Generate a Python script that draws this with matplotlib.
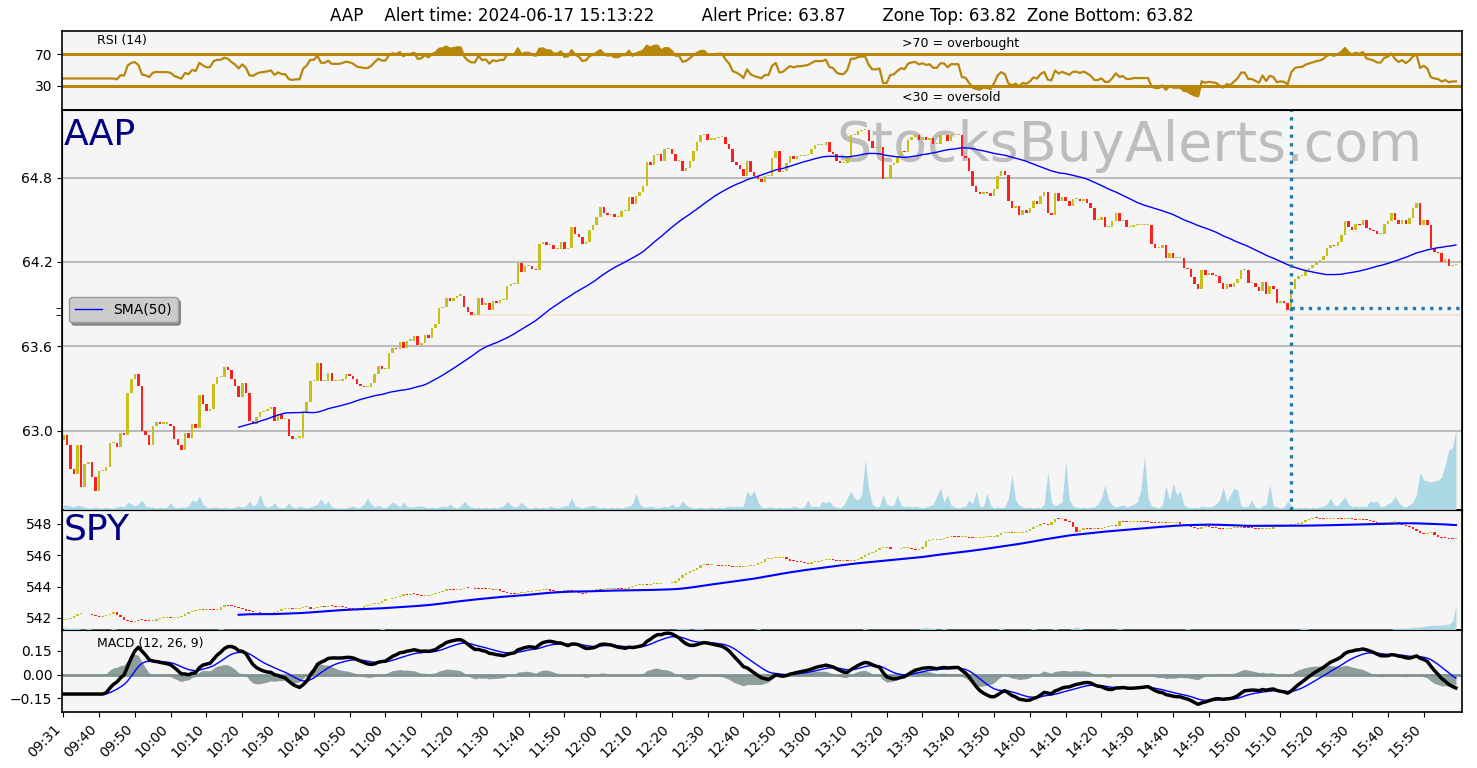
import matplotlib
matplotlib.use("Agg")
import matplotlib.pyplot as plt
import numpy as np
import pandas as pd

# x tick labels, one every 10 one-minute bars
tick_labels = ["09:31", "09:40", "09:50", "10:00", "10:10", "10:20", "10:30", "10:40",
               "10:50", "11:00", "11:10", "11:20", "11:30", "11:40", "11:50", "12:00",
               "12:10", "12:20", "12:30", "12:40", "12:50", "13:00", "13:10", "13:20",
               "13:30", "13:40", "13:50", "14:00", "14:10", "14:20", "14:30", "14:40",
               "14:50", "15:00", "15:10", "15:20", "15:30", "15:40", "15:50"]

aap_first_open = 62.93
aap_close = [
    62.97, 62.90, 62.73, 62.69, 62.90, 62.60, 62.76, 62.78, 62.67, 62.57,
    62.71, 62.71, 62.74, 62.91, 62.91, 62.88, 62.98, 62.97, 63.27, 63.37,
    63.40, 63.32, 63.00, 62.97, 62.90, 63.03, 63.06, 63.05, 63.05, 63.05,
    63.03, 62.94, 62.90, 62.86, 62.98, 62.95, 63.05, 63.02, 63.25, 63.19,
    63.14, 63.15, 63.33, 63.38, 63.38, 63.45, 63.43, 63.37, 63.32, 63.24,
    63.34, 63.27, 63.07, 63.05, 63.10, 63.13, 63.14, 63.15, 63.17, 63.07,
    63.12, 63.08, 63.08, 62.96, 62.94, 62.95, 62.95, 63.13, 63.20, 63.35,
    63.35, 63.48, 63.35, 63.35, 63.41, 63.35, 63.35, 63.35, 63.37, 63.40,
    63.39, 63.37, 63.33, 63.32, 63.31, 63.31, 63.34, 63.40, 63.46, 63.44,
    63.44, 63.55, 63.59, 63.58, 63.63, 63.59, 63.64, 63.64, 63.67, 63.61,
    63.62, 63.68, 63.66, 63.73, 63.76, 63.87, 63.88, 63.94, 63.92, 63.94,
    63.96, 63.96, 63.88, 63.84, 63.82, 63.82, 63.94, 63.89, 63.91, 63.86,
    63.92, 63.91, 63.93, 63.93, 64.03, 64.04, 64.04, 64.19, 64.13, 64.17,
    64.17, 64.15, 64.14, 64.33, 64.34, 64.32, 64.32, 64.29, 64.29, 64.34,
    64.29, 64.30, 64.45, 64.40, 64.38, 64.33, 64.34, 64.43, 64.46, 64.52,
    64.59, 64.55, 64.53, 64.54, 64.52, 64.52, 64.56, 64.56, 64.66, 64.61,
    64.67, 64.70, 64.74, 64.91, 64.89, 64.96, 64.97, 64.92, 65.00, 65.00,
    64.97, 64.92, 64.92, 64.85, 64.87, 64.92, 64.99, 65.05, 65.10, 65.11,
    65.07, 65.07, 65.08, 65.09, 65.09, 65.04, 65.00, 64.91, 64.89, 64.86,
    64.81, 64.92, 64.84, 64.81, 64.79, 64.77, 64.81, 64.81, 64.94, 64.99,
    64.84, 64.85, 64.90, 64.95, 64.93, 64.95, 64.95, 64.96, 64.97, 65.00,
    65.03, 65.03, 65.03, 65.05, 64.98, 64.97, 64.92, 64.90, 64.90, 64.94,
    65.10, 65.10, 65.13, 65.14, 65.14, 65.06, 65.01, 65.01, 65.02, 64.79,
    64.79, 64.89, 64.90, 64.95, 64.99, 64.98, 65.07, 65.09, 65.10, 65.07,
    65.09, 65.07, 65.08, 65.04, 65.04, 65.10, 65.10, 65.06, 65.10, 65.10,
    65.10, 64.95, 64.94, 64.85, 64.74, 64.70, 64.68, 64.70, 64.69, 64.67,
    64.72, 64.81, 64.85, 64.82, 64.63, 64.58, 64.60, 64.53, 64.57, 64.55,
    64.58, 64.63, 64.61, 64.67, 64.70, 64.55, 64.53, 64.69, 64.63, 64.66,
    64.63, 64.60, 64.65, 64.65, 64.63, 64.65, 64.62, 64.58, 64.50, 64.50,
    64.52, 64.45, 64.45, 64.49, 64.55, 64.49, 64.50, 64.45, 64.45, 64.46,
    64.46, 64.46, 64.46, 64.46, 64.33, 64.30, 64.30, 64.32, 64.23, 64.26,
    64.23, 64.23, 64.23, 64.16, 64.15, 64.09, 64.04, 64.01, 64.14, 64.11,
    64.12, 64.11, 64.10, 64.05, 64.01, 64.04, 64.02, 64.05, 64.08, 64.14,
    64.14, 64.05, 64.05, 64.02, 63.99, 64.06, 63.97, 64.03, 64.01, 63.91,
    63.92, 63.91, 63.86, 64.01, 64.08, 64.10, 64.10, 64.14, 64.16, 64.18,
    64.20, 64.21, 64.24, 64.30, 64.32, 64.31, 64.34, 64.39, 64.49, 64.45,
    64.43, 64.47, 64.46, 64.50, 64.44, 64.43, 64.42, 64.40, 64.40, 64.47,
    64.49, 64.55, 64.50, 64.47, 64.50, 64.47, 64.51, 64.58, 64.62, 64.46,
    64.50, 64.46, 64.30, 64.27, 64.26, 64.20, 64.22, 64.17, 64.18, 64.18,
]

aap_volume = [
    5, 5, 4, 3, 5, 4, 3, 2, 2, 3,
    2, 2, 3, 2, 2, 3, 4, 3, 8, 6,
    4, 6, 10, 4, 3, 3, 2, 3, 2, 3,
    7, 3, 2, 3, 3, 4, 10, 8, 14, 6,
    3, 2, 3, 3, 2, 3, 2, 2, 3, 4,
    3, 4, 9, 4, 6, 16, 5, 3, 4, 7,
    3, 2, 3, 7, 3, 2, 4, 3, 2, 3,
    4, 6, 11, 5, 9, 3, 2, 2, 2, 2,
    3, 4, 2, 3, 6, 12, 6, 3, 5, 3,
    2, 5, 8, 6, 3, 8, 4, 3, 3, 4,
    4, 3, 2, 3, 2, 3, 4, 3, 6, 3,
    2, 4, 9, 5, 3, 2, 3, 2, 3, 2,
    3, 2, 3, 4, 9, 5, 3, 4, 8, 4,
    2, 2, 3, 2, 3, 2, 4, 3, 2, 3,
    4, 5, 12, 4, 3, 2, 3, 4, 5, 3,
    2, 3, 2, 3, 2, 3, 2, 3, 4, 6,
    17, 6, 3, 3, 4, 3, 2, 3, 4, 3,
    6, 3, 4, 9, 5, 3, 2, 2, 3, 2,
    2, 3, 2, 3, 2, 3, 4, 3, 4, 3,
    4, 19, 14, 20, 8, 3, 2, 3, 3, 2,
    3, 2, 3, 2, 4, 3, 2, 3, 10, 3,
    4, 3, 9, 7, 9, 4, 3, 2, 5, 12,
    19, 12, 10, 15, 50, 20, 6, 3, 4, 15,
    6, 4, 5, 15, 5, 3, 4, 3, 4, 3,
    2, 3, 4, 6, 14, 22, 8, 15, 5, 3,
    2, 3, 4, 10, 6, 19, 4, 3, 17, 5,
    2, 3, 2, 3, 12, 35, 10, 5, 3, 2,
    3, 2, 3, 2, 6, 38, 8, 4, 6, 8,
    49, 10, 4, 3, 2, 3, 2, 3, 3, 6,
    12, 25, 10, 5, 3, 4, 5, 3, 4, 6,
    8, 20, 54, 12, 4, 3, 2, 5, 24, 10,
    27, 15, 19, 5, 3, 2, 3, 2, 4, 3,
    3, 4, 6, 10, 23, 8, 15, 22, 20, 4,
    3, 4, 10, 3, 2, 4, 6, 26, 4, 3,
    2, 3, 9, 5, 2, 3, 2, 3, 2, 3,
    2, 3, 4, 6, 12, 5, 4, 9, 13, 6,
    3, 4, 3, 4, 3, 9, 8, 9, 3, 4,
    6, 8, 14, 8, 4, 3, 5, 8, 16, 38,
    30, 29, 28, 29, 30, 33, 45, 60, 62, 80,
]

spy_first_open = 541.85
spy_close = [
    541.90, 541.95, 542.00, 542.15, 542.26, 542.28, 542.22, 542.25, 542.18, 542.15,
    542.05, 542.12, 542.20, 542.22, 542.35, 542.20, 542.05, 541.90, 541.82, 541.75,
    541.82, 541.90, 541.85, 541.80, 541.78, 541.80, 541.92, 542.00, 542.02, 542.05,
    542.00, 542.00, 542.05, 542.10, 542.26, 542.35, 542.43, 542.50, 542.54, 542.52,
    542.54, 542.50, 542.48, 542.50, 542.70, 542.80, 542.78, 542.75, 542.70, 542.64,
    542.55, 542.47, 542.45, 542.40, 542.35, 542.30, 542.26, 542.22, 542.20, 542.35,
    542.47, 542.55, 542.60, 542.62, 542.58, 542.60, 542.65, 542.68, 542.69, 542.58,
    542.65, 542.70, 542.73, 542.72, 542.75, 542.74, 542.70, 542.75, 542.68, 542.62,
    542.60, 542.58, 542.58, 542.65, 542.75, 542.82, 542.90, 542.92, 542.96, 543.08,
    543.18, 543.22, 543.28, 543.33, 543.42, 543.50, 543.48, 543.52, 543.50, 543.45,
    543.40, 543.42, 543.46, 543.55, 543.62, 543.67, 543.75, 543.82, 543.80, 543.76,
    543.78, 543.85, 543.93, 543.90, 543.88, 543.86, 543.84, 543.83, 543.82, 543.82,
    543.80, 543.82, 543.72, 543.65, 543.60, 543.55, 543.54, 543.58, 543.60, 543.65,
    543.68, 543.71, 543.75, 543.78, 543.80, 543.82, 543.75, 543.70, 543.67, 543.72,
    543.75, 543.72, 543.70, 543.67, 543.60, 543.54, 543.67, 543.72, 543.78, 543.82,
    543.80, 543.82, 543.82, 543.84, 543.86, 543.84, 543.82, 543.82, 543.95, 544.04,
    544.08, 544.12, 544.14, 544.12, 544.14, 544.15, 544.18, 544.20, 544.20, 544.22,
    544.22, 544.35, 544.55, 544.74, 544.90, 545.00, 545.04, 545.20, 545.39, 545.42,
    545.38, 545.39, 545.35, 545.32, 545.30, 545.32, 545.30, 545.28, 545.28, 545.27,
    545.28, 545.30, 545.33, 545.36, 545.50, 545.60, 545.75, 545.78, 545.80, 545.82,
    545.84, 545.86, 545.78, 545.64, 545.62, 545.60, 545.55, 545.50, 545.47, 545.55,
    545.60, 545.65, 545.69, 545.72, 545.75, 545.68, 545.64, 545.62, 545.65, 545.64,
    545.66, 545.69, 545.75, 545.86, 546.03, 546.12, 546.22, 546.35, 546.44, 546.48,
    546.50, 546.42, 546.37, 546.40, 546.44, 546.45, 546.46, 546.40, 546.33, 546.40,
    546.50, 546.93, 546.95, 546.97, 547.00, 547.05, 547.08, 547.15, 547.20, 547.18,
    547.14, 547.14, 547.14, 547.12, 547.10, 547.10, 547.12, 547.14, 547.14, 547.16,
    547.19, 547.30, 547.40, 547.42, 547.42, 547.40, 547.42, 547.42, 547.48, 547.53,
    547.70, 547.83, 547.90, 548.00, 547.98, 547.96, 548.10, 548.32, 548.30, 548.32,
    548.20, 548.10, 547.80, 547.46, 547.60, 547.74, 547.70, 547.68, 547.70, 547.68,
    547.75, 547.82, 547.89, 547.90, 547.89, 548.17, 548.12, 548.10, 548.12, 548.15,
    548.17, 548.14, 548.12, 548.10, 548.08, 548.06, 548.05, 548.05, 548.04, 548.06,
    548.08, 548.10, 548.02, 547.94, 547.85, 547.79, 547.72, 547.68, 547.78, 547.87,
    547.80, 547.74, 547.72, 547.70, 547.68, 547.70, 547.72, 547.74, 547.76, 547.79,
    547.76, 547.74, 547.72, 547.70, 547.68, 547.68, 547.68, 547.70, 547.79, 547.82,
    547.86, 547.89, 547.92, 547.96, 547.98, 548.00, 548.12, 548.26, 548.32, 548.39,
    548.36, 548.33, 548.30, 548.31, 548.32, 548.32, 548.31, 548.30, 548.30, 548.30,
    548.29, 548.28, 548.28, 548.26, 548.24, 548.21, 548.12, 548.04, 548.04, 548.04,
    548.04, 548.10, 548.15, 548.05, 547.94, 547.86, 547.79, 547.68, 547.57, 547.45,
    547.36, 547.40, 547.46, 547.30, 547.14, 547.10, 547.08, 547.06, 547.04, 547.05,
]

spy_volume = [
    3, 2, 2, 2, 2, 1, 1, 2, 1, 1,
    1, 1, 1, 1, 2, 1, 1, 1, 1, 1,
    1, 1, 1, 1, 1, 1, 1, 1, 1, 1,
    1, 1, 1, 1, 1, 1, 1, 1, 1, 1,
    1, 1, 1, 1, 2, 1, 1, 1, 1, 1,
    1, 1, 1, 1, 1, 1, 1, 1, 1, 1,
    1, 1, 1, 1, 1, 1, 1, 1, 1, 1,
    1, 1, 1, 1, 1, 1, 1, 1, 1, 1,
    1, 1, 1, 1, 1, 1, 1, 1, 1, 2,
    1, 1, 1, 1, 1, 1, 1, 1, 1, 1,
    1, 1, 1, 1, 1, 1, 1, 1, 1, 1,
    1, 1, 1, 1, 1, 1, 1, 1, 1, 1,
    1, 1, 1, 1, 1, 1, 1, 1, 1, 1,
    1, 1, 1, 1, 1, 1, 1, 1, 1, 1,
    1, 1, 1, 1, 1, 1, 1, 1, 1, 1,
    1, 1, 1, 1, 1, 1, 1, 1, 1, 1,
    1, 1, 1, 1, 1, 1, 1, 1, 1, 1,
    1, 1, 2, 2, 2, 1, 1, 2, 2, 1,
    1, 1, 1, 1, 1, 1, 1, 1, 1, 1,
    1, 1, 1, 1, 2, 1, 1, 1, 1, 1,
    1, 1, 1, 1, 1, 1, 1, 1, 1, 1,
    1, 1, 1, 1, 1, 1, 1, 1, 1, 1,
    1, 1, 1, 1, 2, 1, 1, 1, 1, 1,
    1, 1, 1, 1, 1, 1, 1, 1, 1, 1,
    2, 3, 2, 2, 1, 1, 2, 1, 1, 1,
    1, 1, 1, 1, 1, 1, 1, 1, 1, 1,
    1, 1, 2, 1, 1, 1, 1, 1, 1, 1,
    1, 2, 1, 1, 1, 1, 1, 2, 1, 1,
    1, 1, 2, 3, 2, 1, 1, 1, 1, 1,
    1, 1, 1, 1, 1, 2, 1, 1, 1, 1,
    1, 1, 1, 1, 1, 1, 1, 1, 1, 1,
    1, 1, 1, 1, 2, 1, 1, 1, 1, 1,
    1, 1, 1, 1, 1, 1, 1, 1, 1, 1,
    1, 1, 1, 1, 1, 1, 1, 1, 1, 1,
    1, 1, 1, 1, 1, 1, 2, 2, 1, 1,
    1, 1, 1, 1, 1, 1, 1, 1, 1, 1,
    1, 1, 1, 1, 1, 1, 1, 1, 1, 1,
    1, 1, 2, 2, 2, 2, 2, 3, 3, 3,
    4, 4, 5, 5, 5, 5, 6, 6, 9, 25,
]

alert_index = 343
alert_price = 63.87
zone_price = 63.82
zone_start = 113
title = ("AAP    Alert time: 2024-06-17 15:13:22         Alert Price: 63.87"
         "       Zone Top: 63.82  Zone Bottom: 63.82")

UP = "#c6c01c"
DOWN = "#fb1f1f"
GOLD = "#b8860b"
BG = "#f5f5f5"

n = len(aap_close)
x = np.arange(n)
XLIM = (-0.35, 390.7)


def candles(ax, close, first_open, min_h):
    close = np.array(close)
    opn = np.r_[first_open, close[:-1]]
    up = close >= opn
    bottom = np.minimum(opn, close)
    height = np.maximum(np.abs(close - opn), min_h)
    ax.bar(x, height, bottom=bottom, width=0.7,
           color=np.where(up, UP, DOWN), linewidth=0, zorder=2)


def volume(ax, vol, color="lightblue"):
    axv = ax.twinx()
    axv.fill_between(x, vol, color=color, linewidth=0)
    axv.set_ylim(0, max(vol) * 5)
    axv.set_yticks([])
    axv.set_xlim(*XLIM)
    return axv


# indicators
s = pd.Series(aap_close)
delta = s.diff()
gain = delta.clip(lower=0).ewm(com=13, adjust=False, min_periods=14).mean()
loss = (-delta.clip(upper=0)).ewm(com=13, adjust=False, min_periods=14).mean()
rsi = (100 - 100 / (1 + gain / loss)).bfill().values

# MACD in percent of price (12, 26, 9)
ema12 = s.ewm(span=12, adjust=False, min_periods=12).mean()
ema26 = s.ewm(span=26, adjust=False, min_periods=12).mean()
macd = ((ema12 - ema26) / ema26 * 100).bfill()
signal = macd.ewm(span=9, adjust=False).mean()
hist = (macd - signal).values
macd = macd.values
signal = signal.values

sma_aap = s.rolling(50).mean().values
sma_spy = pd.Series(spy_close).rolling(50).mean().values

fig = plt.figure(figsize=(14.77, 7.68), dpi=100)
L, W = 62 / 1477, 1400 / 1477
ax_rsi = fig.add_axes([L, 1 - 109.5 / 768, W, 79 / 768])
ax = fig.add_axes([L, 1 - 510 / 768, W, 400.5 / 768])
ax_spy = fig.add_axes([L, 1 - 630 / 768, W, 120 / 768])
ax_macd = fig.add_axes([L, 1 - 712 / 768, W, 82 / 768])

for a in (ax_rsi, ax, ax_spy, ax_macd):
    a.set_facecolor(BG)
    a.set_xlim(*XLIM)
    a.set_xticks(range(0, 390, 10))
    for sp in a.spines.values():
        sp.set_linewidth(1.2)
    a.tick_params(labelsize=10)
for a in (ax_rsi, ax):
    a.tick_params(axis="x", length=0, labelbottom=False)
ax_spy.tick_params(axis="x", labelbottom=False)

fig.text(762 / 1477, 1 - 16 / 768, title, ha="center", va="center", fontsize=12)

# RSI
ax_rsi.plot(x, rsi, color=GOLD, lw=1.6)
ax_rsi.fill_between(x, rsi, 70, where=rsi >= 70, interpolate=True, color=GOLD)
ax_rsi.fill_between(x, rsi, 30, where=rsi <= 30, interpolate=True, color=GOLD)
ax_rsi.axhline(70, color=GOLD, lw=2.2)
ax_rsi.axhline(30, color=GOLD, lw=2.2)
ax_rsi.set_ylim(0, 100)
ax_rsi.set_yticks([30, 70])
ax_rsi.text(0.025, 0.87, "RSI (14)", transform=ax_rsi.transAxes, fontsize=9, va="center")
ax_rsi.text(0.6, 0.83, ">70 = overbought", transform=ax_rsi.transAxes, fontsize=9, va="center")
ax_rsi.text(0.6, 0.15, "<30 = oversold", transform=ax_rsi.transAxes, fontsize=9, va="center")

# AAP candles
axv = volume(ax, aap_volume)
ax.grid(axis="y", color="#b0b0b0", lw=1.2, zorder=0)
ax.set_axisbelow(True)
candles(ax, aap_close, aap_first_open, 0.008)
ax.plot(x, sma_aap, color="blue", lw=1, label="SMA(50)", zorder=3)
ax.hlines(zone_price, zone_start, XLIM[1], color="#f8e4cf", lw=1.2, zorder=1)
ax.hlines(alert_price, alert_index, XLIM[1], color="#1f77b4", lw=2.4,
          linestyles=(0, (1, 1.6)), zorder=4)
axv.axvline(alert_index, color="#1f77b4", lw=2.4, linestyle=(0, (1, 1.6)))
ax.set_ylim(62.435, 65.284)
ax.set_yticks([63.0, 63.6, 64.2, 64.8])
ax.set_yticklabels(["63.0", "63.6", "64.2", "64.8"])
ax.set_yticks([zone_price, alert_price], minor=True)
ax.tick_params(axis="y", which="minor", length=4)
ax.text(0.0015, 0.911, "AAP", transform=ax.transAxes, fontsize=26, color="navy")
ax.text(0.553, 0.871, "StocksBuyAlerts.com", transform=ax.transAxes, fontsize=40,
        color="#bdbdbd", zorder=1)
ax.legend(loc="center left", fancybox=True, shadow=True, facecolor="#cccccc",
          edgecolor="#999999", framealpha=1, fontsize=10)

# SPY candles
volume(ax_spy, spy_volume)
candles(ax_spy, spy_close, spy_first_open, 0.06)
ax_spy.plot(x, sma_spy, color="blue", lw=1.5, zorder=3)
ax_spy.set_ylim(541.23, 548.89)
ax_spy.set_yticks([542, 544, 546, 548])
ax_spy.text(0.0015, 0.75, "SPY", transform=ax_spy.transAxes, fontsize=26, color="navy")

# MACD
ax_macd.fill_between(x, hist, 0, color="#8e9e9d", linewidth=0)
ax_macd.axhline(0, color="#7f9393", lw=2)
ax_macd.plot(x, signal, color="blue", lw=1)
ax_macd.plot(x, macd, color="black", lw=2.5)
ax_macd.set_ylim(-0.235, 0.28)
ax_macd.set_yticks([-0.15, 0.0, 0.15])
ax_macd.set_yticklabels(["\u22120.15", "0.00", "0.15"])
ax_macd.text(0.025, 0.84, "MACD (12, 26, 9)", transform=ax_macd.transAxes, fontsize=9, va="center")
ax_macd.set_xticklabels(tick_labels, rotation=45, ha="right", fontsize=10)

fig.savefig("out.png", dpi=100)
